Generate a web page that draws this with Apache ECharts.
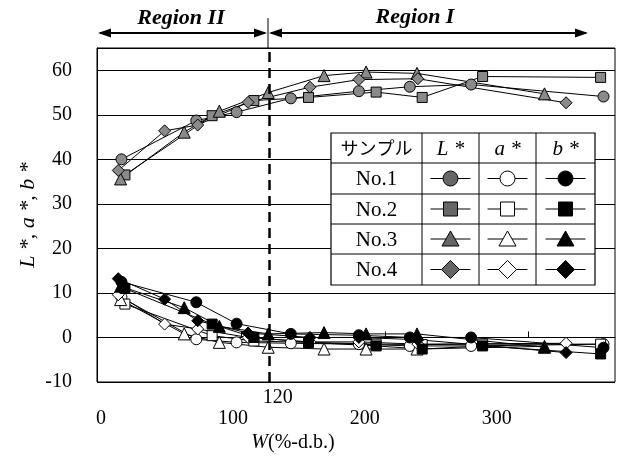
<!DOCTYPE html>
<html>
<head>
<meta charset="utf-8">
<script src="https://cdn.jsdelivr.net/npm/echarts@6/dist/echarts.min.js"></script>
<style>html,body{margin:0;padding:0;background:#fff}#c{width:620px;height:474px}</style>
</head>
<body>
<div id="c"></div>
<script>
// ---- data ----
const samples = ['No.1', 'No.2', 'No.3', 'No.4'];
const xNo1 = [17, 69, 97, 134.7, 182, 217.4, 260, 352];
const xNo2 = [19.4, 80, 109, 147, 194, 226, 268, 350];
const xNo3 = [16.4, 60.6, 85, 119, 157.8, 187, 222.4, 311];
const xNo4 = [14.8, 47, 70, 105, 148, 182, 223, 326];
const L1 = [40, 48.7, 50.6, 53.7, 55.3, 56.3, 56.8, 54.1];
const L2 = [36.5, 49.8, 53.2, 53.9, 55.1, 53.9, 58.6, 58.4];
const L3 = [35.6, 46.1, 50.8, 55, 58.8, 59.6, 59.3, 54.7];
const L4 = [37.5, 46.4, 47.7, 52.8, 56.2, 57.9, 58.1, 52.7];
const a1 = [9, -0.4, -1.1, -1.3, -1.5, -1.9, -1.9, -1.5];
const a2 = [7.5, 0.4, -0.8, -1.1, -1.5, -1.6, -1.5, -1.5];
const a3 = [8.5, 0.8, -1.1, -2.2, -2.6, -2.6, -2.6, -2.0];
const a4 = [9.6, 3.0, 1.9, 0, -1, -1, -1.5, -1.3];
const b1 = [12.5, 7.9, 3.1, 0.8, 0.5, 0, 0, -2.3];
const b2 = [11, 3.0, 0, -1.1, -1.9, -2.6, -1.9, -3.7];
const b3 = [11.5, 6.7, 2.5, 0.8, 1.1, 0.8, 0.8, -2.2];
const b4 = [13.2, 8.6, 3.75, 1, 0, 0, -0.5, -3.4];
const xTickLabels = [0, 100, 200, 300];
const yTicks = [-10, 0, 10, 20, 30, 40, 50, 60];
const boundaryW = 120;

const xs = [xNo1, xNo2, xNo3, xNo4];
const Ls = [L1, L2, L3, L4];
const As = [a1, a2, a3, a4];
const Bs = [b1, b2, b3, b4];
const symbols = ['circle', 'rect', 'triangle', 'diamond'];
const symSizes = [11, 10, 12, 12];
const grayFill = '#8a8a8a';
const SERIF = '"Liberation Serif","DejaVu Serif",serif';

const series = [];
const kinds = [
  {name: 'L*', arr: Ls, fill: grayFill},
  {name: 'a*', arr: As, fill: '#ffffff'},
  {name: 'b*', arr: Bs, fill: '#000000'}
];
kinds.forEach(k => {
  samples.forEach((s, i) => {
    series.push({
      name: s + ' ' + k.name,
      type: 'line',
      xAxisIndex: 0,
      yAxisIndex: 0,
      data: xs[i].map((x, j) => [x, k.arr[i][j]]),
      symbol: symbols[i],
      symbolSize: symSizes[i],
      showAllSymbol: true,
      lineStyle: {color: '#000', width: 1},
      itemStyle: {color: k.fill, borderColor: '#000', borderWidth: 1},
      emphasis: {disabled: true},
      animation: false,
      z: 3
    });
  });
});
series[0].markLine = {
  silent: true,
  symbol: 'none',
  animation: false,
  lineStyle: {color: '#000', width: 2.5, type: [10, 6]},
  label: {show: true, position: 'start', formatter: String(boundaryW), fontFamily: SERIF, fontSize: 20, color: '#000', distance: 6, offset: [8, 0]},
  data: [{xAxis: boundaryW}]
};

// ---- legend table (graphic) ----
const tX = [331, 422, 479, 536, 595];
const tY = [133, 163, 194, 224, 254, 285];
const graphic = [];
graphic.push({type: 'rect', shape: {x: tX[0], y: tY[0], width: tX[4] - tX[0], height: tY[5] - tY[0]},
  style: {fill: '#fff', stroke: '#000', lineWidth: 1.2}, z: 100});
tX.slice(1, 4).forEach(x => graphic.push({type: 'line', shape: {x1: x, y1: tY[0], x2: x, y2: tY[5]}, style: {stroke: '#000', lineWidth: 1}, z: 101}));
tY.slice(1, 5).forEach(y => graphic.push({type: 'line', shape: {x1: tX[0], y1: y, x2: tX[4], y2: y}, style: {stroke: '#000', lineWidth: 1}, z: 101}));
const colC = [(tX[0] + tX[1]) / 2, (tX[1] + tX[2]) / 2, (tX[2] + tX[3]) / 2, (tX[3] + tX[4]) / 2];
const rowC = tY.slice(0, 5).map((y, i) => (y + tY[i + 1]) / 2);
graphic.push({type: 'text', x: colC[0], y: rowC[0], style: {text: 'サンプル', font: '18px "Noto Sans CJK JP"', fill: '#000', align: 'center', verticalAlign: 'middle'}, z: 102});
['L *', 'a *', 'b *'].forEach((t, i) => graphic.push({type: 'text', x: colC[i + 1], y: rowC[0] + 1, style: {text: t, font: 'italic 21px ' + SERIF, fill: '#000', align: 'center', verticalAlign: 'middle'}, z: 102}));
function marker(shape, cx, cy, fill) {
  const st = {fill: fill, stroke: '#000', lineWidth: 1};
  if (shape === 'circle') return {type: 'circle', shape: {cx: cx, cy: cy, r: 7.5}, style: st, z: 103};
  if (shape === 'rect') return {type: 'rect', shape: {x: cx - 7, y: cy - 7, width: 14, height: 14}, style: st, z: 103};
  if (shape === 'triangle') return {type: 'polygon', shape: {points: [[cx, cy - 8], [cx + 8.5, cy + 7], [cx - 8.5, cy + 7]]}, style: st, z: 103};
  return {type: 'polygon', shape: {points: [[cx, cy - 9], [cx + 9, cy], [cx, cy + 9], [cx - 9, cy]]}, style: st, z: 103};
}
const legendFills = ['#666', '#fff', '#000'];
samples.forEach((s, i) => {
  const cy = rowC[i + 1];
  graphic.push({type: 'text', x: colC[0], y: cy + 1, style: {text: s, font: '21px ' + SERIF, fill: '#000', align: 'center', verticalAlign: 'middle'}, z: 102});
  for (let c = 0; c < 3; c++) {
    const cx = colC[c + 1];
    graphic.push({type: 'line', shape: {x1: cx - 20, y1: cy, x2: cx + 20, y2: cy}, style: {stroke: '#000', lineWidth: 1}, z: 102});
    graphic.push(marker(symbols[i], cx, cy, legendFills[c]));
  }
});

// ---- region arrows ----
function arrowHead(xTip, y, dir) {
  return {type: 'polygon', shape: {points: [[xTip, y], [xTip - dir * 13, y - 4.5], [xTip - dir * 13, y + 4.5]]}, style: {fill: '#000'}, z: 50};
}
const ay = 33;
graphic.push({type: 'line', shape: {x1: 100, y1: ay, x2: 265, y2: ay}, style: {stroke: '#000', lineWidth: 2}, z: 50});
graphic.push(arrowHead(98, ay, -1), arrowHead(267, ay, 1));
graphic.push({type: 'line', shape: {x1: 271, y1: ay, x2: 586, y2: ay}, style: {stroke: '#000', lineWidth: 2}, z: 50});
graphic.push(arrowHead(269, ay, -1), arrowHead(588, ay, 1));
graphic.push({type: 'line', shape: {x1: 268, y1: 18, x2: 268, y2: 48}, style: {stroke: '#000', lineWidth: 1}, z: 50});
graphic.push({type: 'text', x: 181, y: 18, style: {text: 'Region II', font: 'italic bold 22px ' + SERIF, fill: '#000', align: 'center', verticalAlign: 'middle'}, z: 50});
graphic.push({type: 'text', x: 415, y: 17, style: {text: 'Region I', font: 'italic bold 22px ' + SERIF, fill: '#000', align: 'center', verticalAlign: 'middle'}, z: 50});
// x-axis title
graphic.push({type: 'text', x: 293, y: 443, style: {
  text: '{i|W}{n|(%-d.b.)}', align: 'center', verticalAlign: 'middle',
  rich: {i: {fontFamily: SERIF, fontStyle: 'italic', fontSize: 20, fill: '#000'}, n: {fontFamily: SERIF, fontSize: 20, fill: '#000'}}
}, z: 50});

const option = {
  backgroundColor: '#fff',
  animation: false,
  grid: {left: 97, right: 5, top: 48, bottom: 92, show: true, borderColor: '#000', borderWidth: 1, backgroundColor: 'transparent'},
  xAxis: [
    {type: 'value', min: 0, max: 360, gridIndex: 0,
      axisLine: {show: true, onZero: true, lineStyle: {color: '#000', width: 1}},
      axisTick: {show: true, inside: true, length: 6, customValues: [100, 200, 300], lineStyle: {color: '#000'}},
      axisLabel: {show: false}, splitLine: {show: false}},
    {type: 'value', min: -3, max: 389.6, gridIndex: 0, position: 'bottom',
      axisLine: {show: false, onZero: false}, axisTick: {show: false}, splitLine: {show: false},
      axisLabel: {show: true, customValues: xTickLabels, margin: 27, fontFamily: SERIF, fontSize: 20, color: '#000'}}
  ],
  yAxis: [{
    type: 'value', min: -10, max: 65, interval: 10,
    name: 'L *, a *, b *', nameLocation: 'middle', nameGap: 58, nameRotate: 90, nameMoveOverlap: false,
    nameTextStyle: {fontFamily: SERIF, fontStyle: 'italic', fontSize: 22, color: '#000'},
    axisLine: {show: true, lineStyle: {color: '#000'}},
    axisTick: {show: false},
    axisLabel: {customValues: yTicks, margin: 25, fontFamily: SERIF, fontSize: 20, color: '#000'},
    splitLine: {show: true, lineStyle: {color: '#000', width: 1}}
  }],
  graphic: graphic,
  series: series
};
const chart = echarts.init(document.getElementById('c'), null, {renderer: 'canvas'});
chart.setOption(option);
</script>
</body>
</html>
